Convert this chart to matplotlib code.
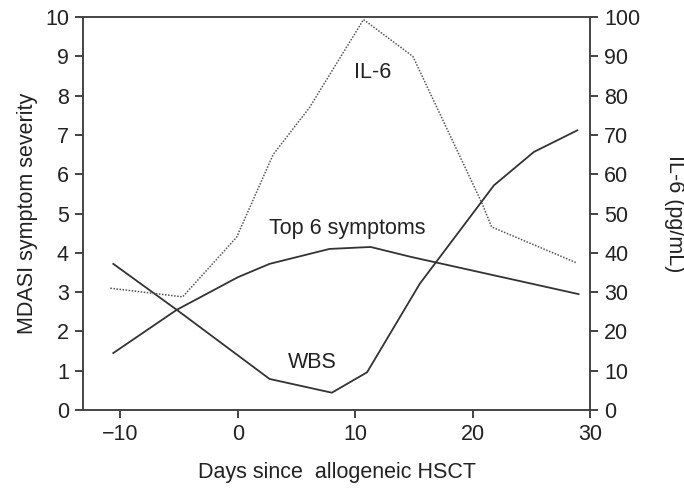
import matplotlib.pyplot as plt

plt.rcParams['font.family'] = ['Liberation Sans', 'DejaVu Sans']

# data
top6_days = [-10.6, -5.2, 0, 2.7, 7.8, 11.3, 14.7, 29]
top6_score = [1.45, 2.55, 3.38, 3.72, 4.1, 4.15, 3.9, 2.95]

wbs_days = [-10.6, -5.2, 2.7, 8.0, 11.0, 15.5, 21.8, 25.2, 28.9]
wbs_score = [3.72, 2.55, 0.79, 0.44, 0.96, 3.22, 5.72, 6.57, 7.12]

il6_days = [-10.85, -4.7, -0.1, 3.0, 6.1, 10.7, 14.9, 20.8, 21.6, 28.8]
il6_pgml = [31.0, 28.8, 44.0, 65.0, 77.0, 99.4, 90.0, 52.5, 46.6, 37.5]

FS = 15.5
TXT = '#222222'

fig = plt.figure(figsize=(6.84, 4.91), dpi=100)
ax = fig.add_axes([0.121, 0.165, 0.742, 0.8])
ax2 = ax.twinx()

ax.plot(top6_days, top6_score, color='#333333', lw=1.3)
ax.plot(wbs_days, wbs_score, color='#333333', lw=1.3)
ax2.plot(il6_days, il6_pgml, color='#555555', lw=1.1, ls=(0, (1, 1)))

ax.set_xlim(-13.2, 30)
ax.set_ylim(0, 10)
ax2.set_ylim(0, 100)
ax.set_xticks([-10, 0, 10, 20, 30])
ax.set_yticks(range(0, 11))
ax2.set_yticks(range(0, 101, 10))

for a in (ax, ax2):
    for s in a.spines.values():
        s.set_color('#444444')
        s.set_linewidth(1.2)
    a.tick_params(labelsize=FS, colors=TXT, width=1.2, length=6, direction='out', pad=4)

ax.text(11.5, 8.6, 'IL-6', fontsize=FS, ha='center', va='center', color=TXT)
ax.text(9.35, 4.63, 'Top 6 symptoms', fontsize=FS, ha='center', va='center', color=TXT)
ax.text(6.3, 1.22, 'WBS', fontsize=FS, ha='center', va='center', color=TXT)

ax.set_xlabel('Days since  allogeneic HSCT', fontsize=FS, color=TXT, labelpad=12)
ax.set_ylabel('MDASI symptom severity', fontsize=FS, color=TXT, labelpad=5)
ax2.set_ylabel('IL-6 (pg/mL)', fontsize=FS, color=TXT, rotation=270, labelpad=32)

fig.savefig('out.png', dpi=100)
